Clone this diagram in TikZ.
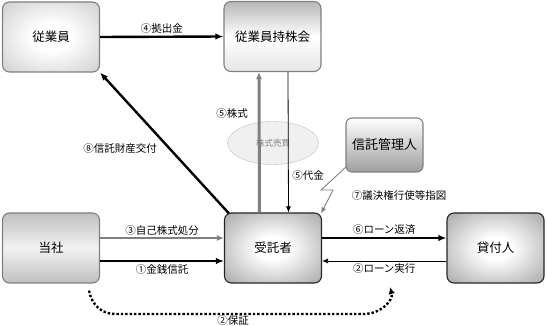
\documentclass[tikz,border=0pt]{standalone}
\usepackage{fontspec}
\setmainfont{Noto Sans CJK JP}
\usetikzlibrary{arrows.meta,shapes.geometric}

\pgfdeclareradialshading{softdark}{\pgfpoint{0bp}{0bp}}{color(0bp)=(white); color(8bp)=(white); color(42bp)=(black!42); color(65bp)=(black!55)}
\pgfdeclareradialshading{softlight}{\pgfpoint{0bp}{0bp}}{color(0bp)=(white); color(10bp)=(white); color(44bp)=(black!25); color(65bp)=(black!33)}

\tikzset{
  box/.style={rounded corners=7pt, minimum width=97pt, minimum height=70pt, line width=1.1pt, draw=black!50, font=\fontsize{12.5}{14}\selectfont},
  darkbox/.style={box, draw=black!85, shading=softdark},
  lbl/.style={font=\fontsize{10.5}{12}\selectfont, inner sep=2pt},
  heavy/.style={line width=2.4pt, -{Latex[length=8pt,width=6.5pt]}},
  thin/.style={line width=0.8pt, -{Latex[length=6pt,width=5pt]}},
  grayarrow/.style={draw=black!50, -{Latex[length=7pt,width=6pt]}}
}

\begin{document}
\begin{tikzpicture}[x=1pt,y=-1pt]
\useasboundingbox (0,0) rectangle (547,326);
\node[box, shading=softlight] (jugyoin) at (51,37) {従業員};
\node[box, top color=black!28, bottom color=black!10, middle color=white] (mochikabu) at (272.5,36.5) {従業員持株会};
\node[box, minimum width=77pt, minimum height=54pt, rounded corners=6pt, font=\fontsize{13}{15}\selectfont, shading angle=30, top color=white, bottom color=black!38] (kanri) at (384.5,145) {信託管理人};
\node[box, top color=black!25, bottom color=black!25, middle color=black!5] (tosha) at (51,248) {当社};
\node[darkbox] (jutaku) at (273,248) {受託者};
\node[darkbox] (kashite) at (495.5,248) {貸付人};
\node[ellipse, draw=black!25, fill=black!6, text=black!50, minimum width=91pt, minimum height=43pt, font=\fontsize{8.5}{10}\selectfont] (baibai) at (273,143) {株式売買};

\draw[heavy] (jugyoin.east) -- node[lbl, above] {④拠出金} (mochikabu.west);
\draw[grayarrow, line width=3pt] ([xshift=-13.5pt]jutaku.north) -- ([xshift=-13.5pt]mochikabu.south);
\draw[thin] ([xshift=15.5pt]mochikabu.south) -- ([xshift=15.5pt]jutaku.north);
\node[lbl] at (232,114) {⑤株式};
\node[lbl] at (308,176) {⑤代金};
\draw[heavy] ([xshift=5pt,yshift=-1pt]jutaku.north west) -- (jugyoin.south east);
\node[lbl] at (120,149) {⑧信託財産交付};
\coordinate (bend1) at (321,190);
\coordinate (bend2) at (333,190);
\draw[grayarrow, line width=0.9pt, -{Latex[length=6pt,width=5pt]}] ([xshift=1pt,yshift=6pt]kanri.south west) -- (bend1) -- (bend2) -- ([xshift=-1pt,yshift=-1pt]jutaku.north east);
\node[lbl] at (399,196) {⑦議決権行使等指図};
\draw[grayarrow, line width=2pt] ([yshift=10pt]tosha.east) -- node[lbl, above] {③自己株式処分} ([yshift=10pt]jutaku.west);
\draw[heavy] ([yshift=-13pt]tosha.east) -- node[lbl, below] {①金銭信託} ([yshift=-13pt]jutaku.west);
\draw[heavy] ([yshift=10pt]jutaku.east) -- node[lbl, above] {⑥ローン返済} ([yshift=10pt]kashite.west);
\draw[thin] ([yshift=-13pt]kashite.west) -- node[lbl, below] {②ローン実行} ([yshift=-13pt]jutaku.east);
\coordinate (jikko) at (390,287);
\draw[line width=2.4pt, dotted, -{Latex[length=7pt,width=6.5pt]}] ([xshift=38pt,yshift=-7pt]tosha.south) to[out=-80,in=180] (115,314) -- (365,314) to[out=0,in=-75] (jikko);
\node[lbl] at (233,321) {②保証};
\end{tikzpicture}
\end{document}
